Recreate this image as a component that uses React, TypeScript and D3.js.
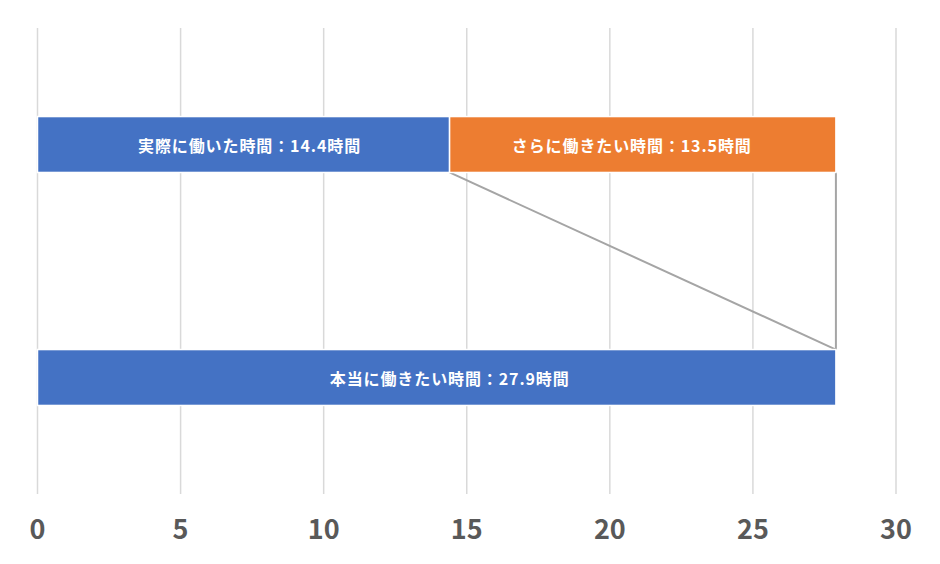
import React from "react";
import * as d3 from "d3";

const categories = ["内訳", "本当"];
const segmentNames = ["実際に働いた時間", "さらに働きたい時間"];
const segmentValues = [14.4, 13.5];
const totalName = "本当に働きたい時間";
const totalValue = [27.9];
const xTicks = [0, 5, 10, 15, 20, 25, 30];
const colors = ["#4472C4", "#ED7D31"];

const W = 940;
const H = 564;
// manual label nudges (px), like Excel's dragged data labels
const segLabelDx = [6, -11];
const totalLabelDx = 13;

export default function App() {
  const x = d3.scaleLinear().domain([0, 30]).range([37.5, 896]);
  const y = d3
    .scaleBand<string>()
    .domain(categories)
    .range([28, 494])
    .paddingInner(0.76)
    .paddingOuter(0.38);
  const bw = y.bandwidth();

  let acc = 0;
  const segs = segmentValues.map((v, i) => {
    const s = { x0: acc, x1: acc + v, name: segmentNames[i], v, color: colors[i] };
    acc += v;
    return s;
  });
  const y0 = y(categories[0])!;
  const y1 = y(categories[1])!;
  const total = totalValue[0];
  const fmt = (v: number) => v.toFixed(1);
  const cjk = "'Noto Sans CJK JP', 'Noto Sans', sans-serif";
  const labelProps = {
    textAnchor: "middle" as const,
    dominantBaseline: "central" as const,
    fill: "#fff",
    fontFamily: cjk,
    fontWeight: "bold",
    fontSize: 16,
    letterSpacing: 0.9,
  };

  return (
    <svg
      width={W}
      height={H}
      style={{ position: "absolute", left: 0, top: 0, background: "#fff" }}
    >
      {xTicks.map((t) => (
        <line
          key={"g" + t}
          x1={x(t)}
          x2={x(t)}
          y1={28}
          y2={494}
          stroke="#d9d9d9"
          strokeWidth={1.5}
        />
      ))}
      <line
        x1={x(segs[0].x1)}
        y1={y0 + bw}
        x2={x(total)}
        y2={y1}
        stroke="#a5a5a5"
        strokeWidth={2}
      />
      <line
        x1={x(total)}
        y1={y0 + bw}
        x2={x(total)}
        y2={y1}
        stroke="#a5a5a5"
        strokeWidth={2}
      />
      {segs.map((s, i) => (
        <g key={"s" + i}>
          <rect
            x={x(s.x0)}
            y={y0}
            width={x(s.x1) - x(s.x0)}
            height={bw}
            fill={s.color}
            stroke="#fff"
            strokeWidth={1.5}
          />
          <text
            x={(x(s.x0) + x(s.x1)) / 2 + segLabelDx[i]}
            y={y0 + bw / 2}
            {...labelProps}
          >
            {`${s.name}：${fmt(s.v)}時間`}
          </text>
        </g>
      ))}
      <rect
        x={x(0)}
        y={y1}
        width={x(total) - x(0)}
        height={bw}
        fill={colors[0]}
        stroke="#fff"
        strokeWidth={1.5}
      />
      <text x={(x(0) + x(total)) / 2 + totalLabelDx} y={y1 + bw / 2} {...labelProps}>
        {`${totalName}：${fmt(total)}時間`}
      </text>
      {xTicks.map((t) => (
        <text
          key={"t" + t}
          x={x(t)}
          y={527}
          textAnchor="middle"
          dominantBaseline="central"
          fill="#595959"
          fontFamily={cjk}
          fontWeight="bold"
          fontSize={27}
        >
          {t}
        </text>
      ))}
    </svg>
  );
}
